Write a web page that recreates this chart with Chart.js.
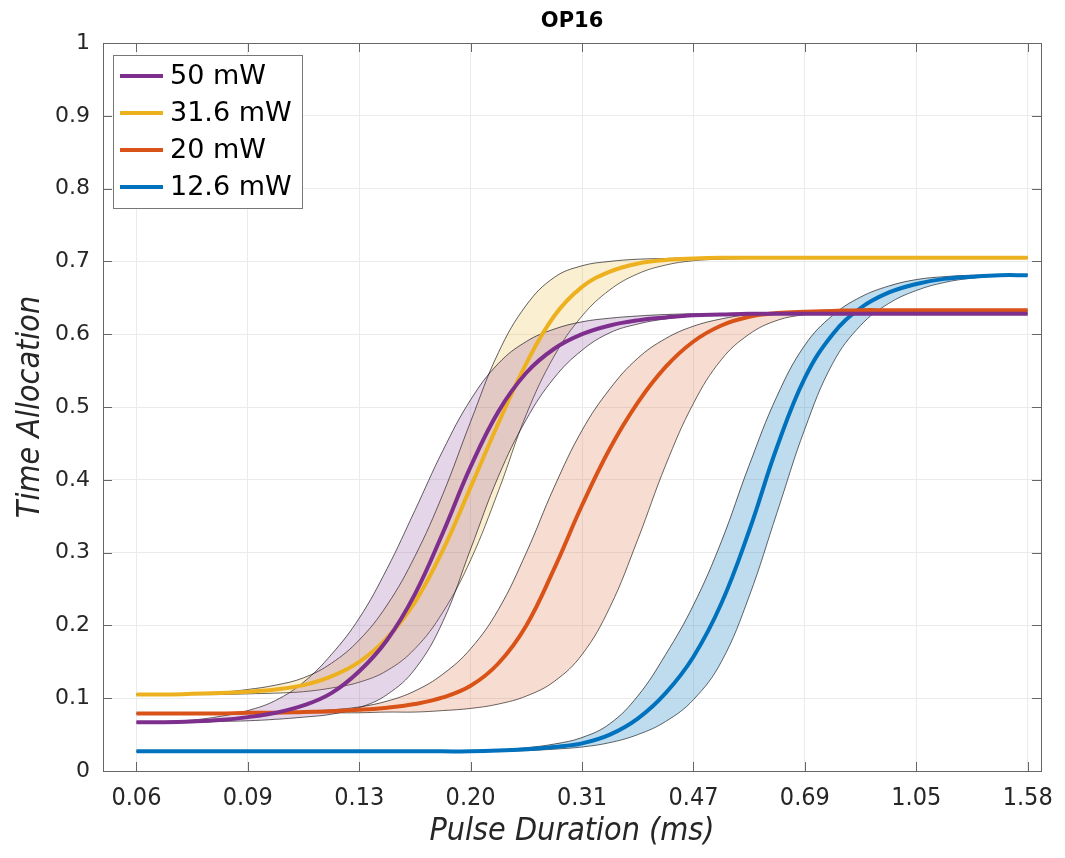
<!DOCTYPE html>
<html>
<head>
<meta charset="utf-8">
<title>OP16</title>
<script src="https://cdn.jsdelivr.net/npm/chart.js@4.4.1/dist/chart.umd.min.js"></script>
<style>
  html, body { margin: 0; background: #fff; }
  #wrap { width: 1065px; height: 858px; }
</style>
</head>
<body>
<div id="wrap"><canvas id="chart" width="1065" height="858"></canvas></div>
<script>
// x positions in tick-index units (tick i sits at pulseLabels[i])
const xPos = [0, 0.25, 0.5, 0.75, 1, 1.25, 1.5, 1.75, 2, 2.25, 2.5,
              2.75, 3, 3.25, 3.5, 3.75, 4, 4.25, 4.5, 4.75, 5, 5.25,
              5.5, 5.75, 6, 6.25, 6.5, 6.75, 7, 7.25, 7.5, 7.75, 8];
const pulseLabels = ['0.06', '0.09', '0.13', '0.20', '0.31', '0.47', '0.69', '1.05', '1.58'];

const seriesNames = ['50 mW', '31.6 mW', '20 mW', '12.6 mW'];
const lineColors = ['#7E2F8E', '#EDB120', '#D95319', '#0072BD'];
const bandColors = ['rgba(126,47,142,0.2)', 'rgba(237,177,32,0.2)', 'rgba(217,83,25,0.2)', 'rgba(0,114,189,0.25)'];

// 50 mW
const p50Mean = [0.067, 0.067, 0.068, 0.070, 0.074, 0.080, 0.090, 0.107, 0.137, 0.180, 0.243,
                 0.327, 0.418, 0.494, 0.547, 0.580, 0.600, 0.612, 0.619, 0.623, 0.626, 0.627,
                 0.628, 0.628, 0.628, 0.628, 0.628, 0.628, 0.628, 0.628, 0.628, 0.628, 0.628];
const p50Hi   = [0.067, 0.068, 0.070, 0.075, 0.083, 0.097, 0.122, 0.160, 0.210, 0.278, 0.358,
                 0.440, 0.510, 0.560, 0.590, 0.607, 0.617, 0.622, 0.625, 0.627, 0.628, 0.628,
                 0.628, 0.628, 0.628, 0.628, 0.628, 0.628, 0.628, 0.628, 0.628, 0.628, 0.628];
const p50Lo   = [0.067, 0.067, 0.067, 0.068, 0.069, 0.071, 0.074, 0.078, 0.087, 0.105, 0.140,
                 0.205, 0.305, 0.405, 0.483, 0.540, 0.578, 0.602, 0.614, 0.621, 0.625, 0.627,
                 0.628, 0.628, 0.628, 0.628, 0.628, 0.628, 0.628, 0.628, 0.628, 0.628, 0.628];

// 31.6 mW
const p316Mean = [0.105, 0.105, 0.106, 0.107, 0.109, 0.112, 0.118, 0.130, 0.150, 0.183, 0.232,
                  0.303, 0.390, 0.478, 0.560, 0.625, 0.665, 0.686, 0.697, 0.702, 0.704, 0.705,
                  0.705, 0.705, 0.705, 0.705, 0.705, 0.705, 0.705, 0.705, 0.705, 0.705, 0.705];
const p316Hi   = [0.105, 0.105, 0.106, 0.108, 0.112, 0.118, 0.128, 0.148, 0.180, 0.228, 0.295,
                  0.380, 0.480, 0.575, 0.640, 0.678, 0.694, 0.700, 0.703, 0.704, 0.705, 0.705,
                  0.705, 0.705, 0.705, 0.705, 0.705, 0.705, 0.705, 0.705, 0.705, 0.705, 0.705];
const p316Lo   = [0.105, 0.105, 0.105, 0.105, 0.106, 0.107, 0.109, 0.114, 0.122, 0.138, 0.168,
                  0.218, 0.290, 0.385, 0.490, 0.570, 0.625, 0.661, 0.683, 0.695, 0.701, 0.703,
                  0.704, 0.705, 0.705, 0.705, 0.705, 0.705, 0.705, 0.705, 0.705, 0.705, 0.705];

// 20 mW
const p20Mean = [0.079, 0.079, 0.079, 0.079, 0.080, 0.080, 0.081, 0.082, 0.084, 0.087, 0.092,
                 0.101, 0.117, 0.148, 0.200, 0.278, 0.365, 0.443, 0.506, 0.555, 0.590, 0.612,
                 0.624, 0.629, 0.631, 0.632, 0.633, 0.633, 0.633, 0.633, 0.633, 0.633, 0.633];
const p20Hi   = [0.079, 0.079, 0.079, 0.080, 0.080, 0.081, 0.082, 0.084, 0.088, 0.096, 0.110,
                 0.133, 0.168, 0.222, 0.300, 0.390, 0.468, 0.525, 0.567, 0.594, 0.611, 0.621,
                 0.627, 0.630, 0.632, 0.633, 0.633, 0.633, 0.633, 0.633, 0.633, 0.633, 0.633];
const p20Lo   = [0.079, 0.079, 0.079, 0.079, 0.079, 0.079, 0.080, 0.080, 0.080, 0.081, 0.081,
                 0.083, 0.086, 0.092, 0.103, 0.123, 0.160, 0.225, 0.318, 0.420, 0.505, 0.565,
                 0.600, 0.619, 0.627, 0.631, 0.632, 0.633, 0.633, 0.633, 0.633, 0.633, 0.633];

// 12.6 mW
const p126Mean = [0.027, 0.027, 0.027, 0.027, 0.027, 0.027, 0.027, 0.027, 0.027, 0.027, 0.027,
                  0.027, 0.027, 0.028, 0.030, 0.033, 0.038, 0.050, 0.072, 0.107, 0.157, 0.230,
                  0.330, 0.445, 0.540, 0.600, 0.636, 0.657, 0.669, 0.676, 0.679, 0.681, 0.681];
const p126Hi   = [0.027, 0.027, 0.027, 0.027, 0.027, 0.027, 0.027, 0.027, 0.027, 0.027, 0.027,
                  0.027, 0.027, 0.029, 0.032, 0.037, 0.046, 0.065, 0.103, 0.160, 0.228, 0.315,
                  0.420, 0.515, 0.585, 0.626, 0.651, 0.666, 0.675, 0.679, 0.681, 0.681, 0.682];
const p126Lo   = [0.027, 0.027, 0.027, 0.027, 0.027, 0.027, 0.027, 0.027, 0.027, 0.027, 0.027,
                  0.027, 0.027, 0.027, 0.028, 0.030, 0.033, 0.039, 0.050, 0.068, 0.098, 0.150,
                  0.240, 0.355, 0.470, 0.560, 0.612, 0.642, 0.660, 0.671, 0.677, 0.680, 0.681];

const means = [p50Mean, p316Mean, p20Mean, p126Mean];
const highs = [p50Hi, p316Hi, p20Hi, p126Hi];
const lows  = [p50Lo, p316Lo, p20Lo, p126Lo];

const FONT = '"DejaVu Sans", "Noto Sans", sans-serif';
const FONT_NARROW = '"DejaVu Sans Condensed", "Liberation Sans Narrow", "DejaVu Sans", sans-serif';

const pts = (arr) => xPos.map((x, i) => ({ x: x, y: arr[i] }));

// mean curves first (lowest order = drawn on top), then the bands
const datasets = [];
means.forEach((arr, s) => {
    datasets.push({
        label: seriesNames[s],
        data: pts(arr),
        borderColor: lineColors[s],
        borderWidth: 4,
        pointRadius: 0,
        tension: 0.4,
        fill: false,
        order: 0
    });
});
highs.forEach((arr, s) => {
    datasets.push({
        label: seriesNames[s] + ' upper',
        data: pts(arr),
        borderColor: 'rgba(20,20,20,0.75)',
        borderWidth: 0.9,
        pointRadius: 0,
        tension: 0.4,
        backgroundColor: bandColors[s],
        fill: '+1',
        order: 1
    });
    datasets.push({
        label: seriesNames[s] + ' lower',
        data: pts(lows[s]),
        borderColor: 'rgba(20,20,20,0.75)',
        borderWidth: 0.9,
        pointRadius: 0,
        tension: 0.4,
        fill: false,
        order: 1
    });
});

// axes box, inward ticks, title and the legend box
const frameAndLegend = {
    id: 'frameAndLegend',
    afterDatasetsDraw(chart) {
        const ctx = chart.ctx;
        const a = chart.chartArea;
        const xs = chart.scales.x, ys = chart.scales.y;
        ctx.save();
        ctx.strokeStyle = '#666';
        ctx.lineWidth = 1;
        ctx.strokeRect(Math.round(a.left) + 0.5, Math.round(a.top) + 0.5,
                       Math.round(a.right - a.left), Math.round(a.bottom - a.top));
        ctx.beginPath();
        xs.ticks.forEach(t => {
            const px = Math.round(xs.getPixelForValue(t.value)) + 0.5;
            ctx.moveTo(px, a.bottom); ctx.lineTo(px, a.bottom - 9);
            ctx.moveTo(px, a.top); ctx.lineTo(px, a.top + 9);
        });
        ys.ticks.forEach(t => {
            const py = Math.round(ys.getPixelForValue(t.value)) + 0.5;
            ctx.moveTo(a.left, py); ctx.lineTo(a.left + 9, py);
            ctx.moveTo(a.right, py); ctx.lineTo(a.right - 9, py);
        });
        ctx.stroke();
        ctx.restore();
    },
    afterDraw(chart) {
        const ctx = chart.ctx;
        const a = chart.chartArea;
        ctx.save();
        ctx.fillStyle = '#000';
        ctx.font = 'bold 21px ' + FONT;
        ctx.textAlign = 'center';
        ctx.textBaseline = 'middle';
        ctx.fillText('OP16', (a.left + a.right) / 2, 22);

        const lx = a.left + 10, ly = a.top + 12, lw = 189, lh = 153;
        ctx.fillStyle = '#fff';
        ctx.fillRect(lx, ly, lw, lh);
        ctx.strokeStyle = '#777';
        ctx.lineWidth = 1;
        ctx.strokeRect(lx + 0.5, ly + 0.5, lw, lh);
        ctx.font = '27px ' + FONT;
        ctx.textAlign = 'left';
        seriesNames.forEach((name, i) => {
            const y = ly + 21 + i * 37;
            ctx.strokeStyle = lineColors[i];
            ctx.lineWidth = 4;
            ctx.beginPath();
            ctx.moveTo(lx + 7, y);
            ctx.lineTo(lx + 50, y);
            ctx.stroke();
            ctx.fillStyle = '#000';
            ctx.fillText(name, lx + 57, y + 1);
        });
        ctx.restore();
    }
};

new Chart(document.getElementById('chart'), {
    type: 'line',
    data: { datasets: datasets },
    options: {
        responsive: false,
        devicePixelRatio: 1,
        animation: false,
        layout: { padding: { top: 43, right: 20, bottom: 0, left: 0 } },
        plugins: {
            legend: { display: false },
            title: { display: false },
            tooltip: { enabled: false }
        },
        scales: {
            x: {
                type: 'linear',
                min: -0.3,
                max: 8.12,
                afterBuildTicks: (scale) => {
                    scale.ticks = pulseLabels.map((_, i) => ({ value: i }));
                },
                afterFit: (scale) => { scale.height = 87; },
                ticks: {
                    callback: (value, index) => pulseLabels[index],
                    autoSkip: false,
                    maxRotation: 0,
                    padding: 12,
                    color: '#262626',
                    font: { family: FONT_NARROW, size: 25 }
                },
                grid: { color: '#ebebeb', drawTicks: false },
                border: { display: false },
                title: {
                    display: true,
                    text: 'Pulse Duration (ms)',
                    color: '#262626',
                    font: { family: FONT_NARROW, size: 32, style: 'italic' },
                    padding: { top: 0, bottom: 7 }
                }
            },
            y: {
                min: 0,
                max: 1,
                afterFit: (scale) => { scale.width = 103; },
                ticks: {
                    stepSize: 0.1,
                    padding: 13,
                    color: '#262626',
                    font: { family: FONT, size: 22 },
                    callback: (value) => String(Math.round(value * 10) / 10)
                },
                grid: { color: '#ebebeb', drawTicks: false },
                border: { display: false },
                title: {
                    display: true,
                    text: 'Time Allocation',
                    color: '#262626',
                    font: { family: FONT_NARROW, size: 32, style: 'italic' },
                    padding: { top: 11, bottom: 0 }
                }
            }
        }
    },
    plugins: [frameAndLegend]
});
</script>
</body>
</html>
